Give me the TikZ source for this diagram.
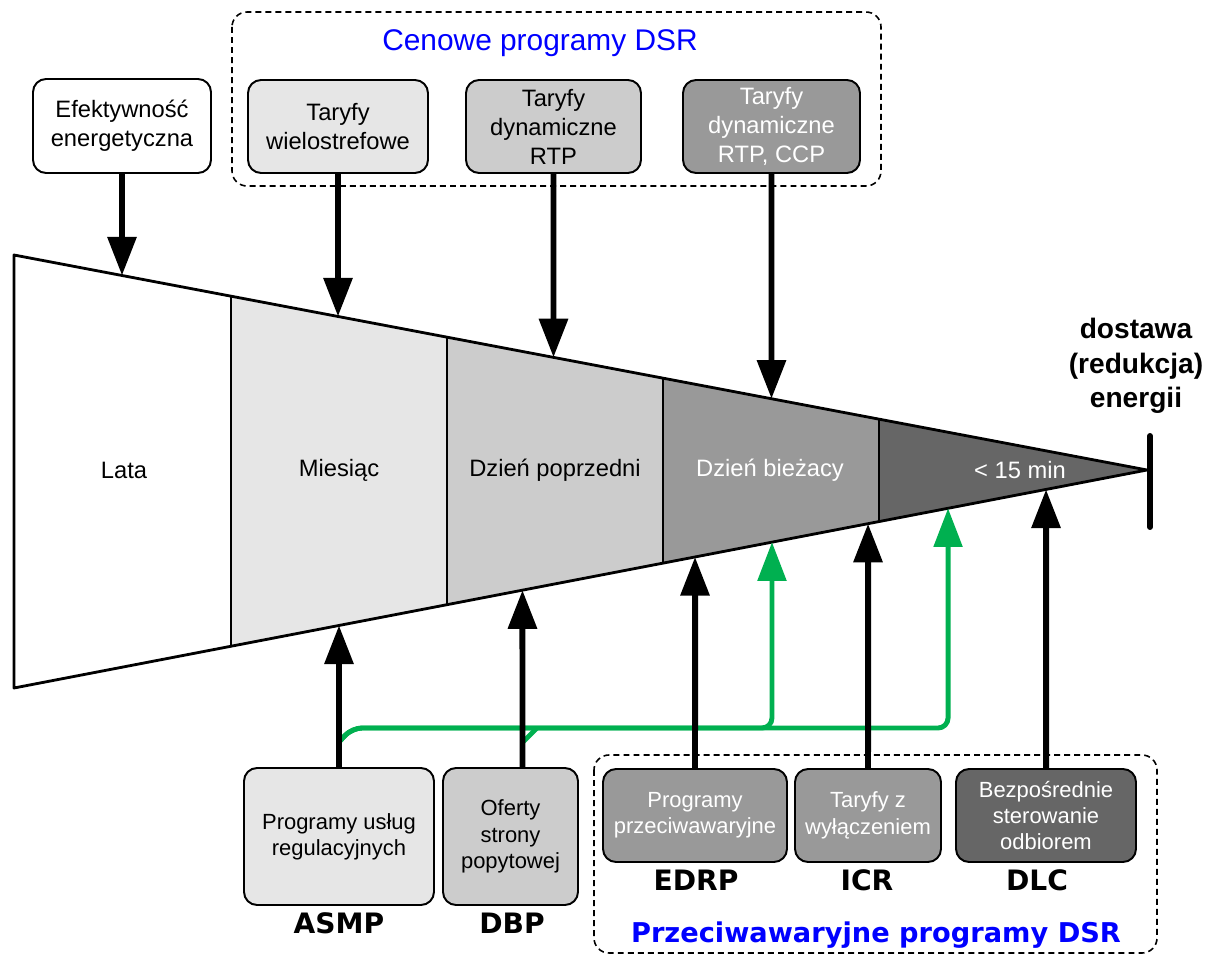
\documentclass[tikz,border=0pt]{standalone}
\usepackage{fontspec}
\setmainfont{Liberation Sans}
\newfontfamily\tagfont{DejaVu Sans}
\usetikzlibrary{arrows.meta,calc}
\definecolor{tone1}{HTML}{E6E6E6}
\definecolor{tone2}{HTML}{CCCCCC}
\definecolor{tone3}{HTML}{999999}
\definecolor{tone4}{HTML}{666666}
\definecolor{dsrgreen}{HTML}{00B050}
\tikzset{
  prog/.style={draw,line width=1.1pt,rounded corners=0.26cm,align=center,inner sep=0pt,
    minimum height=1.86cm,font=\fontsize{13.5}{16.5}\selectfont},
  lowprog/.style={prog,font=\fontsize{12.5}{15}\selectfont},
  feed/.style={line width=3.4pt,-{Triangle[width=16pt,length=22pt]}},
  gfeed/.style={line width=2.8pt,draw=dsrgreen,rounded corners=0.2cm,-{Triangle[width=16pt,length=22pt]}},
  tag/.style={font=\tagfont\bfseries\fontsize{16}{19}\selectfont},
  group/.style={draw,line width=0.9pt,dash pattern=on 3.4pt off 2.3pt,rounded corners=0.3cm},
}
\begin{document}
\begin{tikzpicture}[x=0.02cm,y=-0.02cm]
\useasboundingbox (0,0) rectangle (1211,956);
% wedge of time horizons
\coordinate (lt) at (14,255);
\coordinate (lb) at (14,688);
\coordinate (tip) at (1147,470);
\foreach \xa/\xb/\fillc in {14/231/white,231/447/tone1,447/663/tone2,663/879/tone3,879/1147/tone4}{
  \pgfmathsetmacro{\fa}{(\xa-14)/1133}
  \pgfmathsetmacro{\fb}{(\xb-14)/1133}
  \fill[\fillc] ($(lt)!\fa!(tip)$) -- ($(lt)!\fb!(tip)$) -- ($(lb)!\fb!(tip)$) -- ($(lb)!\fa!(tip)$) -- cycle;
}
\foreach \xa in {231,447,663,879}{
  \pgfmathsetmacro{\fa}{(\xa-14)/1133}
  \draw[line width=1.4pt] ($(lt)!\fa!(tip)$) -- ($(lb)!\fa!(tip)$);
}
\draw[line width=1.6pt,line join=round] (lt) -- (tip) -- (lb) -- cycle;
\draw[line width=3.4pt,line cap=round] ($(tip)+(3,-34)$) -- ($(tip)+(3,57)$);
\node[font=\fontsize{13.5}{16.5}\selectfont] (lata) at (124,470) {Lata};
\node[font=\fontsize{13.5}{16.5}\selectfont] (mies) at (339,470) {Miesiąc};
\node[font=\fontsize{13.5}{16.5}\selectfont] (dpop) at (555,470) {Dzień poprzedni};
\node[font=\fontsize{13.5}{16.5}\selectfont,text=white] (dbie) at (770,470) {Dzień bieżacy};
\node[font=\fontsize{13.5}{16.5}\selectfont,text=white] (min15) at (1020,470) {< 15 min};
\node[align=center,font=\bfseries\fontsize{16}{19.5}\selectfont] (dost) at (1136,366) {dostawa\\(redukcja)\\energii};
% price based programs
\draw[group] (232,12) rectangle (881,186);
\node[text=blue,font=\fontsize{17}{20}\selectfont] (cenlbl) at (540,43) {Cenowe programy DSR};
\node[prog,fill=white,minimum width=3.56cm,minimum height=1.88cm] (eff) at (122,126) {Efektywność\\energetyczna};
\node[prog,fill=tone1,minimum width=3.6cm] (c1) at (338,126.5) {Taryfy\\wielostrefowe};
\node[prog,fill=tone2,minimum width=3.5cm] (c2) at (553.5,126.5) {Taryfy\\dynamiczne\\RTP};
\node[prog,fill=tone3,text=white,minimum width=3.54cm] (c3) at (771.5,126.5) {Taryfy\\dynamiczne\\RTP, CCP};
\foreach \nm in {eff,c1,c2,c3}
  \draw[feed] (\nm) -- (intersection of lt--tip and \nm.south--\nm.north);
% market and emergency programs
\draw[group] (594,755) rectangle (1157,953);
\node[text=blue,font=\tagfont\bfseries\fontsize{15.5}{18}\selectfont] (prlbl) at (876,935) {Przeciwawaryjne programy DSR};
\node[lowprog,fill=tone1,minimum width=3.8cm,minimum height=2.74cm] (a1) at (339,836.5) {Programy usług\\regulacyjnych};
\node[lowprog,fill=tone2,minimum width=2.7cm,minimum height=2.74cm] (a2) at (510.5,836.5) {Oferty\\strony\\popytowej};
\node[lowprog,fill=tone3,text=white,minimum width=3.68cm] (e1) at (695,815.5) {Programy\\przeciwawaryjne};
\node[lowprog,fill=tone3,text=white,minimum width=2.92cm] (e2) at (868,815.5) {Taryfy z\\wyłączeniem};
\node[lowprog,fill=tone4,text=white,minimum width=3.6cm] (e3) at (1046,815.5) {Bezpośrednie\\sterowanie\\odbiorem};
\node[tag] (asmp) at (339,923) {ASMP};
\node[tag] (dbp) at (512,923) {DBP};
\node[tag] (edrp) at (696,880) {EDRP};
\node[tag] (icr) at (867,880) {ICR};
\node[tag] (dlc) at (1037,880) {DLC};
% green links
\coordinate (gs) at (339,742);
\coordinate (gk) at (352,728);
\coordinate (gt1) at ($(lb)!0.6690!(tip)$);
\coordinate (gt2) at ($(lb)!0.8244!(tip)$);
\draw[gfeed] (gs) -- (gk) -| (gt1);
\draw[gfeed] (gs) -- (gk) -| (gt2);
\draw[line width=2.8pt,dsrgreen] (523,742) -- (537,728);
% black links
\coordinate (a2s) at ($(a2.north)+(12,0)$);
\coordinate (a2u) at ($(a2s)+(0,-100)$);
\draw[feed] (a1) -- (intersection of lb--tip and a1.north--a1.south);
\draw[feed] (a2s) -- (intersection of lb--tip and a2s--a2u);
\foreach \nm in {e1,e2,e3}
  \draw[feed] (\nm) -- (intersection of lb--tip and \nm.north--\nm.south);
\end{tikzpicture}
\end{document}
